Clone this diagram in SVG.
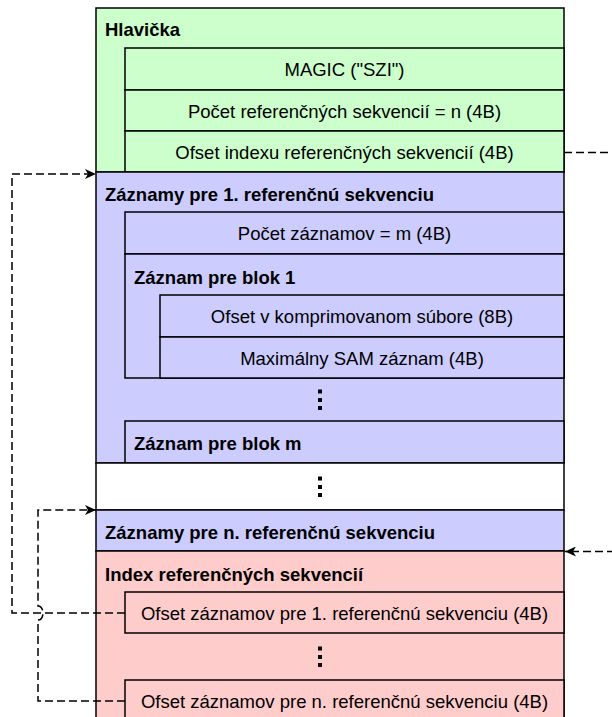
<svg xmlns="http://www.w3.org/2000/svg" width="612" height="717" viewBox="0 0 612 717">
<style>
  .box { stroke: #000; stroke-width: 1.5; }
  .g { fill: #CCFFCC; }
  .b { fill: #CCCCFF; }
  .p { fill: #FFCCCC; }
  .w { fill: #FFFFFF; }
  .t { font-family: "Liberation Sans", Arial, sans-serif; font-size: 18.5px; fill: #000; }
  .h { font-weight: bold; }
  .c { text-anchor: middle; }
  .dots rect { fill: #000; }
  .con { fill: none; stroke: #000; stroke-width: 1.5; stroke-dasharray: 8 4; }
</style>
<defs>
  <marker id="arrow" markerUnits="userSpaceOnUse" markerWidth="12" markerHeight="10" refX="11" refY="5" orient="auto">
    <path d="M0,0 L11,5 L0,10 L3,5 Z" fill="#000"/>
  </marker>
</defs>

<rect width="612" height="717" fill="#FFFFFF"/>

<g id="hlavicka">
  <rect class="box g" x="96" y="8" width="468" height="164"/>
  <text class="t h" x="105" y="36">Hlavička</text>
  <g id="magic">
    <rect class="box g" x="125" y="48" width="439" height="42"/>
    <text class="t c" x="344.5" y="75.5">MAGIC ("SZI")</text>
  </g>
  <g id="pocet-ref">
    <rect class="box g" x="125" y="90" width="439" height="41"/>
    <text class="t c" x="344.5" y="117.5">Počet referenčných sekvencií = n (4B)</text>
  </g>
  <g id="ofset-indexu">
    <rect class="box g" x="125" y="131" width="439" height="41"/>
    <text class="t c" x="344.5" y="158.5">Ofset indexu referenčných sekvencií (4B)</text>
  </g>
</g>

<g id="zaznamy-1">
  <rect class="box b" x="96" y="172" width="468" height="291"/>
  <text class="t h" x="105" y="200.5">Záznamy pre 1. referenčnú sekvenciu</text>
  <g id="pocet-zaznamov">
    <rect class="box b" x="125" y="212" width="439" height="42"/>
    <text class="t c" x="344.5" y="240">Počet záznamov = m (4B)</text>
  </g>
  <g id="blok-1">
    <rect class="box b" x="125" y="254" width="439" height="124"/>
    <text class="t h" x="134" y="283.5">Záznam pre blok 1</text>
    <g id="ofset-komp">
      <rect class="box b" x="160" y="295" width="404" height="42"/>
      <text class="t c" x="362" y="323">Ofset v komprimovanom súbore (8B)</text>
    </g>
    <g id="max-sam">
      <rect class="box b" x="160" y="337" width="404" height="41"/>
      <text class="t c" x="362" y="364.5">Maximálny SAM záznam (4B)</text>
    </g>
  </g>
  <g class="dots">
    <rect x="318" y="389.5" width="4" height="4"/>
    <rect x="318" y="398" width="4" height="4"/>
    <rect x="318" y="406" width="4" height="4"/>
  </g>
  <g id="blok-m">
    <rect class="box b" x="125" y="421" width="439" height="42"/>
    <text class="t h" x="134" y="449.5">Záznam pre blok m</text>
  </g>
</g>

<g id="medzera">
  <rect class="box w" x="96" y="463" width="468" height="47"/>
  <g class="dots">
    <rect x="318" y="476.5" width="4" height="4"/>
    <rect x="318" y="485" width="4" height="4"/>
    <rect x="318" y="493" width="4" height="4"/>
  </g>
</g>

<g id="zaznamy-n">
  <rect class="box b" x="96" y="510" width="468" height="41"/>
  <text class="t h" x="105" y="538.5">Záznamy pre n. referenčnú sekvenciu</text>
</g>

<g id="index">
  <rect class="box p" x="96" y="551" width="468" height="180"/>
  <text class="t h" x="105" y="580.5">Index referenčných sekvencií</text>
  <g id="ofset-1">
    <rect class="box p" x="125" y="592" width="439" height="41"/>
    <text class="t c" x="344.5" y="619.5">Ofset záznamov pre 1. referenčnú sekvenciu (4B)</text>
  </g>
  <g class="dots">
    <rect x="318" y="646.5" width="4" height="4"/>
    <rect x="318" y="655" width="4" height="4"/>
    <rect x="318" y="663" width="4" height="4"/>
  </g>
  <g id="ofset-n">
    <rect class="box p" x="125" y="680" width="439" height="42"/>
    <text class="t c" x="344.5" y="708">Ofset záznamov pre n. referenčnú sekvenciu (4B)</text>
  </g>
</g>

<g id="connectors">
  <path class="con" d="M564,152.5 H630 V551.5 H565" marker-end="url(#arrow)"/>
  <path class="con" d="M125,613 H12 V174 H96" marker-end="url(#arrow)"/>
  <path class="con" d="M125,701 H38 V620 A5,7 0 0 0 38,606 V510 H96" marker-end="url(#arrow)"/>
</g>
</svg>
